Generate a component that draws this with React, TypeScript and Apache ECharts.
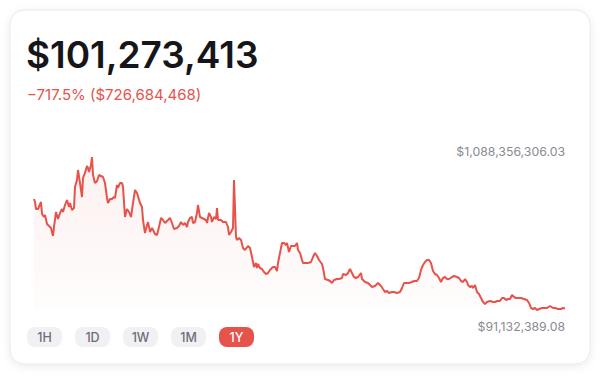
import React, { useEffect, useRef } from "react";
import * as echarts from "echarts";

// Price history (step index, value in millions of USD)
const priceSeries: [number, number][] = [
  [0, 814.6], [1, 795.1], [2, 749.4], [4, 749.4], [7, 795.1], [8, 716.9], [10, 697.3], [11, 710.3],
  [13, 651.7], [15, 638.6], [17, 625.6], [19, 573.5], [20, 632.1], [22, 729.9], [24, 684.3], [26, 723.4],
  [28, 749.4], [29, 729.9], [31, 775.5], [33, 808.1], [35, 762.5], [36, 788.5], [38, 742.9], [40, 756.0],
  [41, 892.8], [43, 938.5], [44, 1003.6], [46, 918.9], [48, 827.7], [49, 951.5], [51, 984.1], [53, 1029.7],
  [54, 1016.7], [55, 990.6], [57, 1036.2], [58, 1088.36], [59, 971.0], [61, 918.9], [63, 932.0], [65, 971.0],
  [67, 964.5], [69, 958.0], [71, 918.9], [73, 821.1], [74, 788.5], [76, 814.6], [78, 814.6], [80, 827.7],
  [81, 821.1], [83, 905.9], [84, 886.3], [86, 918.9], [88, 918.9], [89, 892.8], [91, 697.3], [93, 749.4],
  [95, 729.9], [97, 697.3], [99, 788.5], [101, 873.3], [103, 853.7], [106, 788.5], [108, 762.5], [109, 677.7],
  [111, 593.0], [113, 645.2], [114, 664.7], [116, 599.5], [118, 625.6], [119, 612.6], [121, 586.5], [123, 580.0],
  [125, 632.1], [127, 690.8], [129, 677.7], [131, 658.2], [134, 677.7], [136, 690.8], [138, 658.2], [140, 619.1],
  [143, 625.6], [145, 638.6], [147, 664.7], [149, 645.2], [151, 658.2], [153, 632.1], [154, 664.7], [156, 690.8],
  [158, 697.3], [159, 658.2], [161, 664.7], [163, 723.4], [164, 775.5], [166, 697.3], [168, 690.8], [170, 684.3],
  [172, 677.7], [173, 658.2], [175, 723.4], [177, 697.3], [178, 664.7], [180, 697.3], [182, 684.3], [183, 756.0],
  [184, 677.7], [187, 677.7], [189, 664.7], [192, 664.7], [194, 632.1], [195, 580.0], [197, 599.5], [199, 625.6],
  [200, 938.5], [202, 567.0], [203, 547.4], [205, 560.4], [207, 547.4], [209, 495.3], [211, 482.2], [214, 508.3],
  [216, 495.3], [218, 436.6], [220, 371.4], [222, 397.5], [223, 364.9], [224, 391.0], [226, 364.9], [228, 358.4],
  [230, 338.8], [232, 325.8], [234, 332.3], [236, 351.9], [239, 371.4], [241, 371.4], [243, 345.3], [244, 397.5],
  [246, 462.7], [248, 527.8], [250, 527.8], [252, 514.8], [253, 527.8], [255, 469.2], [257, 508.3], [259, 508.3],
  [261, 508.3], [263, 527.8], [264, 482.2], [266, 462.7], [268, 417.0], [269, 397.5], [272, 397.5], [274, 397.5],
  [277, 404.0], [279, 436.6], [281, 462.7], [283, 443.1], [285, 417.0], [288, 391.0], [289, 364.9], [291, 293.2],
  [294, 286.7], [296, 280.1], [298, 267.1], [300, 286.7], [303, 293.2], [305, 293.2], [308, 299.7], [309, 325.8],
  [312, 319.3], [314, 332.3], [316, 358.4], [318, 332.3], [320, 306.2], [322, 299.7], [324, 306.2], [327, 332.3],
  [328, 293.2], [331, 273.6], [334, 267.1], [338, 241.0], [341, 247.6], [344, 267.1], [347, 247.6], [349, 228.0],
  [351, 208.5], [353, 215.0], [355, 201.9], [358, 208.5], [360, 208.5], [363, 201.9], [366, 208.5], [368, 234.5],
  [370, 267.1], [373, 267.1], [375, 267.1], [378, 273.6], [380, 280.1], [383, 280.1], [385, 299.7], [387, 351.9],
  [389, 384.4], [391, 404.0], [393, 417.0], [395, 417.0], [397, 397.5], [399, 345.3], [401, 325.8], [403, 319.3],
  [405, 299.7], [407, 273.6], [409, 299.7], [411, 306.2], [413, 293.2], [415, 293.2], [418, 306.2], [420, 312.7],
  [423, 306.2], [425, 299.7], [427, 280.1], [429, 273.6], [431, 293.2], [433, 273.6], [434, 254.1], [436, 241.0],
  [438, 247.6], [439, 234.5], [441, 254.1], [443, 208.5], [445, 195.4], [447, 169.3], [449, 143.3], [451, 130.2],
  [453, 143.3], [456, 149.8], [459, 143.3], [461, 143.3], [463, 149.8], [466, 149.8], [468, 169.3], [470, 169.3],
  [472, 156.3], [474, 162.8], [476, 162.8], [478, 188.9], [480, 175.9], [482, 169.3], [485, 169.3], [487, 169.3],
  [490, 162.8], [493, 156.3], [495, 136.8], [497, 104.2], [499, 97.6], [501, 104.2], [503, 91.13], [505, 97.6],
  [508, 104.2], [511, 104.2], [513, 104.2], [516, 117.2], [519, 104.2], [521, 104.2], [524, 97.6], [527, 97.6],
  [529, 104.2], [531, 101.27],
];

const headlineValue = "$101,273,413";
const changeText = "\u2212717.5% ($726,684,468)";
const highLabel = "$1,088,356,306.03";
const lowLabel = "$91,132,389.08";
const rangeButtons = ["1H", "1D", "1W", "1M", "1Y"];
const activeRange = "1Y";
const yMin = 91.13;
const yMax = 1088.36;

const RED = "#e5534b";
const FONT = "Inter, 'Noto Sans', sans-serif";

export default function App() {
  const ref = useRef<HTMLDivElement>(null);

  useEffect(() => {
    if (!ref.current) return;
    const chart = echarts.init(ref.current, undefined, { renderer: "svg" });

    const buttons: any[] = [];
    rangeButtons.forEach((label, i) => {
      const x = 27 + i * 48;
      const active = label === activeRange;
      buttons.push({
        type: "rect",
        shape: { x, y: 327, width: 35, height: 20, r: 8 },
        style: { fill: active ? RED : "#f1f1f4" },
        z: 10,
      });
      buttons.push({
        type: "text",
        x: x + 17.5,
        y: 337.5,
        style: {
          text: label,
          fill: active ? "#ffffff" : "#6e6e76",
          font: `500 12.5px ${FONT}`,
          textAlign: "center",
          textVerticalAlign: "middle",
        },
        z: 11,
      });
    });

    chart.setOption({
      animation: false,
      grid: { left: 34, right: 35, top: 157, bottom: 67 },
      xAxis: { type: "value", min: 0, max: 531, show: false },
      yAxis: { type: "value", min: yMin, max: yMax, show: false, splitLine: { show: false } },
      graphic: [
        {
          type: "rect",
          shape: { x: 10, y: 10, width: 580, height: 354, r: 14 },
          style: {
            fill: "#ffffff",
            stroke: "#e8e8e8",
            lineWidth: 1,
            shadowBlur: 8,
            shadowColor: "rgba(0,0,0,0.08)",
            shadowOffsetY: 2,
          },
          z: -10,
        },
        {
          type: "text",
          x: 26,
          y: 54,
          style: {
            text: headlineValue,
            fill: "#16161a",
            font: `600 37px ${FONT}`,
            textVerticalAlign: "middle",
          },
        },
        {
          type: "text",
          x: 27,
          y: 94,
          style: {
            text: changeText,
            fill: RED,
            font: `400 15px ${FONT}`,
            textVerticalAlign: "middle",
          },
        },
        {
          type: "text",
          x: 565,
          y: 151,
          style: {
            text: highLabel,
            fill: "#8a8a92",
            font: `400 12.3px ${FONT}`,
            textAlign: "right",
            textVerticalAlign: "middle",
          },
        },
        {
          type: "text",
          x: 565,
          y: 326,
          style: {
            text: lowLabel,
            fill: "#8a8a92",
            font: `400 12.3px ${FONT}`,
            textAlign: "right",
            textVerticalAlign: "middle",
          },
        },
        ...buttons,
      ],
      series: [
        {
          type: "line",
          data: priceSeries,
          showSymbol: false,
          symbol: "none",
          lineStyle: { color: RED, width: 2 },
          itemStyle: { color: RED },
          areaStyle: {
            color: new echarts.graphic.LinearGradient(0, 0, 0, 1, [
              { offset: 0, color: "rgba(229,83,75,0.12)" },
              { offset: 1, color: "rgba(229,83,75,0.02)" },
            ]),
          },
        },
      ],
    });

    return () => chart.dispose();
  }, []);

  return (
    <div
      ref={ref}
      style={{ position: "absolute", left: 0, top: 0, width: 600, height: 377, background: "#ffffff" }}
    />
  );
}
